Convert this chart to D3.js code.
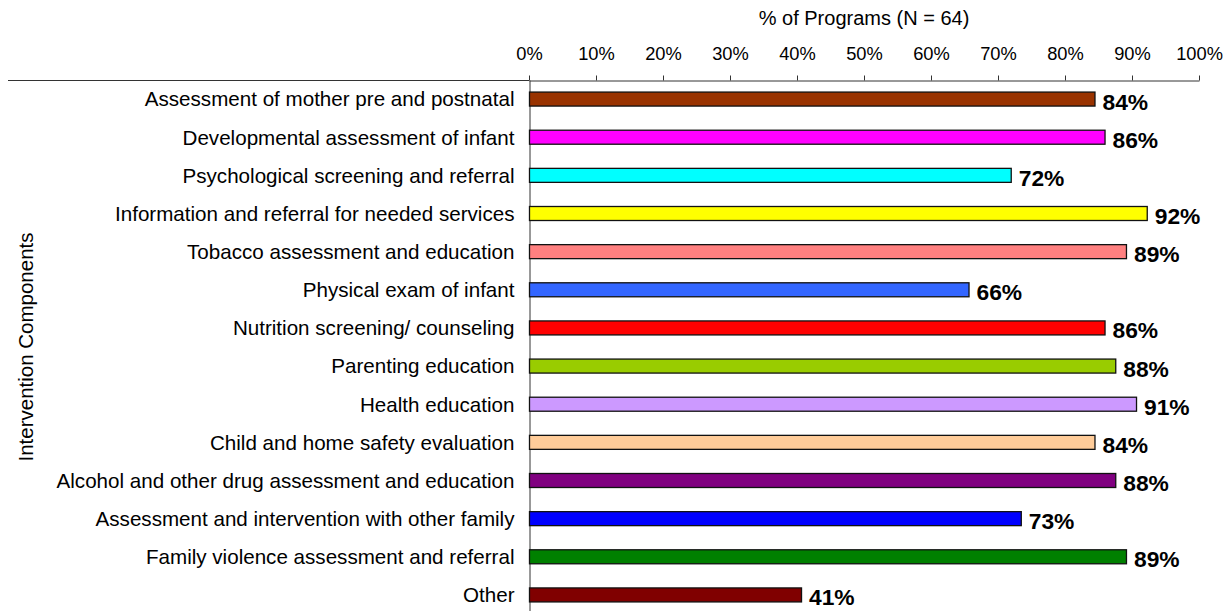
<!DOCTYPE html>
<html>
<head>
<meta charset="utf-8">
<script src="https://cdn.jsdelivr.net/npm/d3@7"></script>
<style>
  body { margin: 0; background: #fff; }
  svg { display: block; font-family: "Liberation Sans", Arial, sans-serif; }
</style>
</head>
<body>
<div id="chart"></div>
<script>
// Data
const categories = [
  "Assessment of mother pre and postnatal",
  "Developmental assessment of infant",
  "Psychological screening and referral",
  "Information and referral for needed services",
  "Tobacco assessment and education",
  "Physical exam of infant",
  "Nutrition screening/ counseling",
  "Parenting education",
  "Health education",
  "Child and home safety evaluation",
  "Alcohol and other drug assessment and education",
  "Assessment and intervention with other family",
  "Family violence assessment and referral",
  "Other",
];
const values = [84.4, 85.9, 71.9, 92.2, 89.1, 65.6, 85.9, 87.5, 90.6, 84.4, 87.5, 73.4, 89.1, 40.6];
const valueLabels = ["84%", "86%", "72%", "92%", "89%", "66%", "86%", "88%", "91%", "84%", "88%", "73%", "89%", "41%"];
const colors = [
  "#993300", "#ff00ff", "#00ffff", "#ffff00", "#ff8080", "#3366ff", "#ff0000",
  "#99cc00", "#cc99ff", "#ffcc99", "#800080", "#0000ff", "#008000", "#800000",
];
const xTicks = [0, 10, 20, 30, 40, 50, 60, 70, 80, 90, 100];
const xTitle = "% of Programs (N = 64)";
const yTitle = "Intervention Components";

// Layout
const svgWidth = 1230;
const svgHeight = 611;
const plot = { left: 529, right: 1199, top: 80, bottom: 614 };

const svg = d3
  .select("#chart")
  .append("svg")
  .attr("width", svgWidth)
  .attr("height", svgHeight);

// Scales
const xScale = d3.scaleLinear().domain([0, 100]).range([plot.left, plot.right]);
const yScale = d3
  .scaleBand()
  .domain(categories)
  .range([plot.top, plot.bottom])
  .paddingInner(0.633)
  .paddingOuter(0.3165);

const rows = categories.map((c, i) => ({
  category: c,
  value: values[i],
  label: valueLabels[i],
  color: colors[i],
}));

// Left extension of the top rule
svg
  .append("line")
  .attr("x1", 8)
  .attr("x2", plot.left)
  .attr("y1", plot.top + 0.5)
  .attr("y2", plot.top + 0.5)
  .attr("stroke", "#333");

// Top axis
const gX = svg
  .append("g")
  .attr("transform", `translate(0,${plot.top + 0.5})`)
  .call(
    d3
      .axisTop(xScale)
      .tickValues(xTicks)
      .tickFormat((d) => d + "%")
      .tickSizeInner(5)
      .tickSizeOuter(0)
      .tickPadding(16)
  );
gX.select(".domain").attr("stroke", "#333");
gX.selectAll(".tick line").attr("stroke", "#333");
gX.selectAll(".tick text")
  .attr("fill", "#000")
  .style("font-size", "18.3px");

svg
  .append("text")
  .attr("x", (plot.left + plot.right) / 2)
  .attr("y", 24.5)
  .attr("text-anchor", "middle")
  .style("font-size", "20px")
  .text(xTitle);

// Left axis
const gY = svg
  .append("g")
  .attr("transform", `translate(${plot.left + 0.5},0)`)
  .call(d3.axisLeft(yScale).tickSize(0).tickPadding(15));
gY.select(".domain").attr("stroke", "#333");
gY.selectAll(".tick text")
  .attr("fill", "#000")
  .attr("dy", null)
  .attr("y", 7.3)
  .style("font-size", "20.6px");

svg
  .append("text")
  .attr("transform", `translate(33,${(plot.top + plot.bottom) / 2}) rotate(-90)`)
  .attr("text-anchor", "middle")
  .style("font-size", "20.5px")
  .text(yTitle);

// Bars
svg
  .append("g")
  .selectAll("rect")
  .data(rows)
  .join("rect")
  .attr("x", xScale(0) + 0.5)
  .attr("y", (d) => yScale(d.category))
  .attr("width", (d) => xScale(d.value) - xScale(0))
  .attr("height", yScale.bandwidth())
  .attr("fill", (d) => d.color)
  .attr("stroke", "#111")
  .attr("stroke-width", 1.3);

// Value labels
svg
  .append("g")
  .selectAll("text")
  .data(rows)
  .join("text")
  .attr("x", (d) => xScale(d.value) + 8)
  .attr("y", (d) => yScale(d.category) + yScale.bandwidth() / 2 + 10.5)
  .style("font-size", "22.8px")
  .style("font-weight", "bold")
  .text((d) => d.label);
</script>
</body>
</html>
